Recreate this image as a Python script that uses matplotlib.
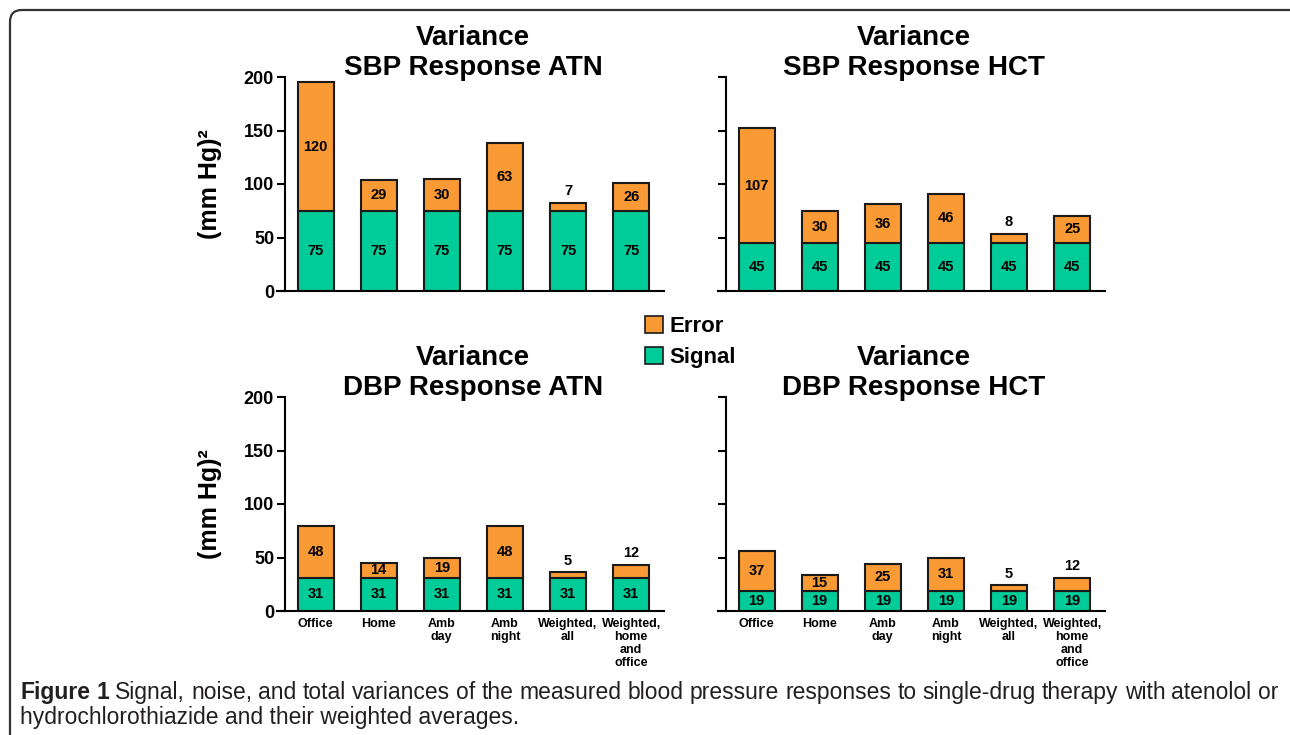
import matplotlib
matplotlib.use("Agg")
import matplotlib.pyplot as plt
import numpy as np
from matplotlib.patches import FancyBboxPatch, Patch

plt.rcParams['font.family'] = ['Liberation Sans', 'DejaVu Sans']

categories = ["Office", "Home", "Amb\nday", "Amb\nnight", "Weighted,\nall",
              "Weighted,\nhome\nand\noffice"]

sbp_atn_signal = [75, 75, 75, 75, 75, 75]
sbp_atn_error = [120, 29, 30, 63, 7, 26]
sbp_hct_signal = [45, 45, 45, 45, 45, 45]
sbp_hct_error = [107, 30, 36, 46, 8, 25]
dbp_atn_signal = [31, 31, 31, 31, 31, 31]
dbp_atn_error = [48, 14, 19, 48, 5, 12]
dbp_hct_signal = [19, 19, 19, 19, 19, 19]
dbp_hct_error = [37, 15, 25, 31, 5, 12]

orange = "#F99A35"
green = "#00CC99"
edge = "#1a1a1a"

W, H = 1290, 735
fig = plt.figure(figsize=(W / 100, H / 100), dpi=100)

panels = [
    ("Variance\nSBP Response ATN", sbp_atn_signal, sbp_atn_error, (277, 77, 291), True, False),
    ("Variance\nSBP Response HCT", sbp_hct_signal, sbp_hct_error, (718, 77, 291), False, False),
    ("Variance\nDBP Response ATN", dbp_atn_signal, dbp_atn_error, (277, 397, 611), True, True),
    ("Variance\nDBP Response HCT", dbp_hct_signal, dbp_hct_error, (718, 397, 611), False, True),
]

for title, sig, err, (px0, ptop, pbot), ylabels, xlabels in panels:
    ax = fig.add_axes([px0 / W, 1 - pbot / H, 387 / W, (pbot - ptop) / H])
    x = np.arange(len(categories))
    ax.bar(x, sig, width=0.57, color=green, edgecolor=edge, linewidth=1.5)
    ax.bar(x, err, bottom=sig, width=0.57, color=orange, edgecolor=edge, linewidth=1.5)
    for xi, s, e in zip(x, sig, err):
        ax.text(xi, s / 2, str(s), ha='center', va='center', fontsize=10.5, fontweight='bold')
        if e <= 12:
            ax.annotate(str(e), (xi, s + e), xytext=(0, 8.5), textcoords='offset points',
                        ha='center', va='center', fontsize=10.5, fontweight='bold')
        else:
            ax.text(xi, s + e / 2, str(e), ha='center', va='center', fontsize=10.5,
                    fontweight='bold')
    ax.set_xlim(-0.61, 5.52)
    ax.set_ylim(0, 200)
    ax.set_yticks([0, 50, 100, 150, 200])
    for sp in ['top', 'right']:
        ax.spines[sp].set_visible(False)
    ax.spines['left'].set_position(('data', -0.48))
    ax.spines['left'].set_linewidth(1.5)
    ax.spines['bottom'].set_linewidth(1.5)
    ax.tick_params(axis='y', length=6, width=1.5, labelsize=13, pad=2)
    ax.tick_params(axis='x', length=0, labelsize=9, pad=5)
    if ylabels:
        for lab in ax.get_yticklabels():
            lab.set_fontweight('bold')
        fig.text(210 / W, 1 - ((ptop + pbot) / 2) / H, "(mm Hg)²", rotation=90,
                 ha='center', va='center', fontsize=18, fontweight='bold')
    else:
        ax.set_yticklabels([])
    ax.set_xticks(x)
    if xlabels:
        ax.set_xticklabels(categories, fontweight='bold', linespacing=1.1)
    else:
        ax.set_xticklabels([])
    fig.text((px0 + 196) / W, 1 - (ptop - 24) / H, title, ha='center', va='center',
             fontsize=20, fontweight='bold', linespacing=1.2)

handles = [Patch(facecolor=orange, edgecolor=edge, linewidth=1.2, label="Error"),
           Patch(facecolor=green, edgecolor=edge, linewidth=1.2, label="Signal")]
fig.legend(handles=handles, loc='upper left', bbox_to_anchor=(645 / W, 1 - 316 / H),
           frameon=False, handlelength=0.8, handleheight=0.8,
           handletextpad=0.3, labelspacing=0.45, borderpad=0, borderaxespad=0,
           prop={'weight': 'bold', 'size': 16})

# rounded frame (inches)
frame = FancyBboxPatch((0.10, -0.3), 13.2, 7.25 + 0.3,
                       boxstyle='round,pad=0,rounding_size=0.12',
                       transform=fig.dpi_scale_trans,
                       facecolor='none', edgecolor='#333333', linewidth=1.6)
fig.add_artist(frame)

# caption, line 1 justified word by word
cap_font = ['Liberation Sans Narrow', 'Liberation Sans', 'DejaVu Sans']
line1 = [("Figure", 'bold'), ("1", 'bold')] + [(w, 'normal') for w in
         "Signal, noise, and total variances of the measured blood pressure responses to single-drug therapy with atenolol or".split()]
line2 = "hydrochlorothiazide and their weighted averages."
x0, x1 = 20, 1278
fig.canvas.draw()
r = fig.canvas.get_renderer()
words = []
for w, wt in line1:
    t = fig.text(0, 1 - 699 / H, w, fontsize=13, fontweight=wt, family=cap_font,
                 va='baseline', ha='left', color='#231F20')
    words.append(t)
sp = fig.text(0, 0, "a a", fontsize=13, family=cap_font)
sp2 = fig.text(0, 0, "aa", fontsize=13, family=cap_font)
space_w = sp.get_window_extent(r).width - sp2.get_window_extent(r).width
sp.remove()
sp2.remove()
natural = sum(t.get_window_extent(r).width for t in words) + space_w * (len(words) - 1)
fs = 13 * (x1 - x0) / natural
for t in words:
    t.set_fontsize(fs)
widths = [t.get_window_extent(r).width for t in words]
gap = (x1 - x0 - sum(widths)) / (len(words) - 1)
xx = x0
for t, wd in zip(words, widths):
    t.set_x(xx / W)
    xx += wd + gap
fig.text(x0 / W, 1 - 724 / H, line2, fontsize=fs, family=cap_font, va='baseline',
         ha='left', color='#231F20')

fig.savefig("out.png", dpi=100)
